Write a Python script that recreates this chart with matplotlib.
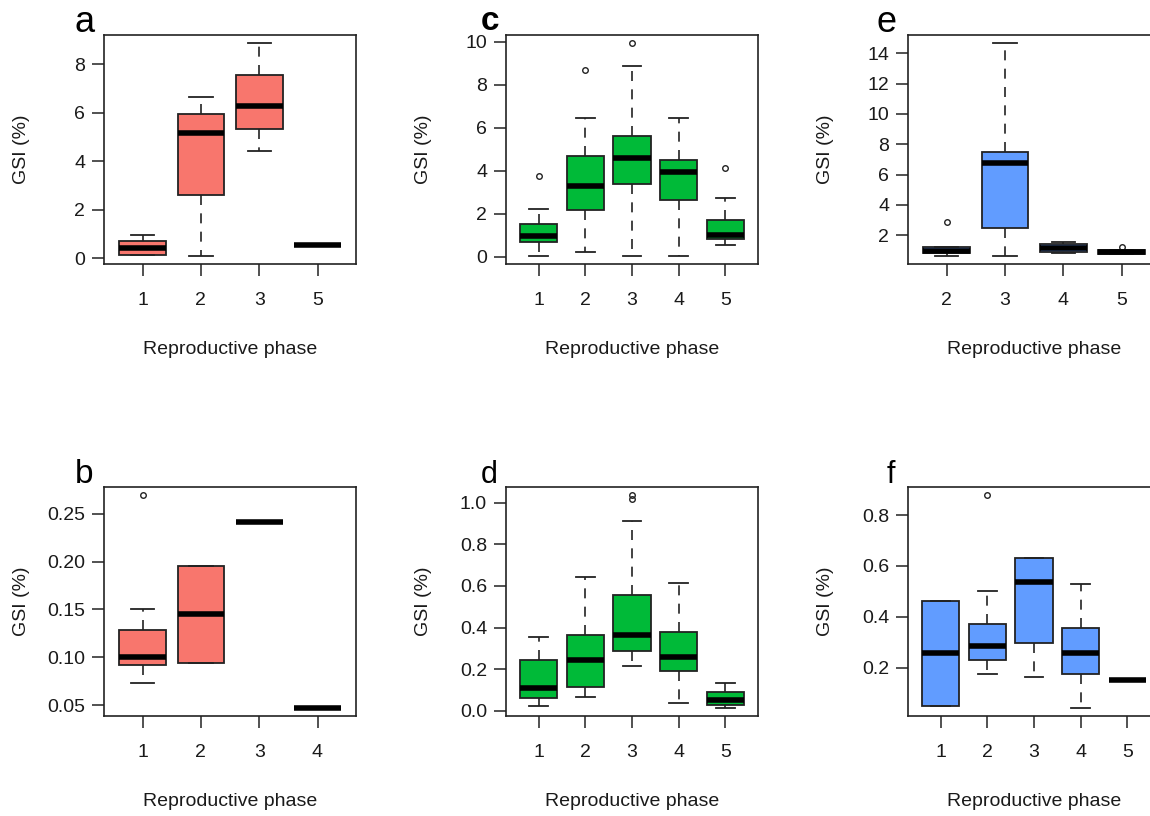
import numpy as np
import matplotlib
matplotlib.use('Agg')
import matplotlib.pyplot as plt
from matplotlib.ticker import MultipleLocator, FormatStrFormatter

plt.rcParams['font.family'] = ['Liberation Sans', 'DejaVu Sans']

# panel a (red)
labels_a = ['1', '2', '3', '5']
whislo_a = [0.15, 0.11, 4.43, 0.55]
q1_a = [0.15, 2.60, 5.33, 0.55]
med_a = [0.44, 5.16, 6.29, 0.55]
q3_a = [0.70, 5.96, 7.55, 0.55]
whishi_a = [0.94, 6.66, 8.85, 0.55]
fliers_a = [[], [], [], []]

# panel b (red)
labels_b = ['1', '2', '3', '4']
whislo_b = [0.073, 0.094, 0.241, 0.0475]
q1_b = [0.092, 0.094, 0.241, 0.0475]
med_b = [0.100, 0.1456, 0.241, 0.0475]
q3_b = [0.129, 0.195, 0.241, 0.0475]
whishi_b = [0.150, 0.195, 0.241, 0.0475]
fliers_b = [[0.269], [], [], []]

# panel c (green)
labels_c = ['1', '2', '3', '4', '5']
whislo_c = [0.05, 0.22, 0.05, 0.05, 0.56]
q1_c = [0.70, 2.15, 3.39, 2.65, 0.84]
med_c = [0.97, 3.30, 4.57, 3.94, 1.00]
q3_c = [1.51, 4.67, 5.60, 4.51, 1.71]
whishi_c = [2.21, 6.46, 8.88, 6.46, 2.72]
fliers_c = [[3.77], [8.70], [9.91], [], [4.11]]

# panel d (green)
labels_d = ['1', '2', '3', '4', '5']
whislo_d = [0.023, 0.066, 0.214, 0.037, 0.016]
q1_d = [0.064, 0.116, 0.289, 0.192, 0.028]
med_d = [0.111, 0.243, 0.366, 0.261, 0.052]
q3_d = [0.245, 0.363, 0.556, 0.377, 0.089]
whishi_d = [0.355, 0.643, 0.913, 0.616, 0.134]
fliers_d = [[], [], [1.02, 1.035], [], []]

# panel e (blue)
labels_e = ['2', '3', '4', '5']
whislo_e = [0.66, 0.66, 0.83, 0.79]
q1_e = [0.81, 2.49, 0.90, 0.79]
med_e = [0.95, 6.78, 1.15, 0.88]
q3_e = [1.23, 7.49, 1.43, 1.00]
whishi_e = [1.23, 14.65, 1.52, 1.00]
fliers_e = [[2.86], [], [], [1.23]]

# panel f (blue)
labels_f = ['1', '2', '3', '4', '5']
whislo_f = [0.048, 0.176, 0.165, 0.043, 0.151]
q1_f = [0.048, 0.230, 0.297, 0.176, 0.151]
med_f = [0.256, 0.286, 0.535, 0.256, 0.151]
q3_f = [0.461, 0.370, 0.630, 0.357, 0.151]
whishi_f = [0.461, 0.503, 0.630, 0.528, 0.151]
fliers_f = [[], [0.877], [], [], []]

RED = '#F8766D'
GREEN = '#00BA38'
BLUE = '#619CFF'

W, H = 1150, 816
fig = plt.figure(figsize=(W / 100, H / 100), dpi=100)


def make_stats(labels, lo, q1, med, q3, hi, fl):
    return [dict(label=l, whislo=a, q1=b, med=c, q3=d, whishi=e, fliers=f)
            for l, a, b, c, d, e, f in zip(labels, lo, q1, med, q3, hi, fl)]


def panel(left, top, letter, lpos, lsize, lweight, color, stats, step, fmt):
    ax = fig.add_axes([left / W, 1 - (top + 229) / H, 252 / W, 229 / H])
    n = len(stats)
    ax.bxp(stats, positions=np.arange(1, n + 1), widths=0.8, capwidths=0.4,
           patch_artist=True,
           boxprops=dict(facecolor=color, edgecolor='#222222', linewidth=1.3),
           medianprops=dict(color='black', linewidth=4.0, solid_capstyle='butt'),
           whiskerprops=dict(color='#222222', linewidth=1.2, linestyle=(0, (6, 5))),
           capprops=dict(color='#222222', linewidth=1.3),
           flierprops=dict(marker='o', markersize=4, markerfacecolor='none',
                           markeredgecolor='#222222', markeredgewidth=1.0))
    vals = []
    for s in stats:
        vals += [s['whislo'], s['whishi']] + list(s['fliers'])
    lo, hi = min(vals), max(vals)
    pad = 0.04 * (hi - lo)
    ax.set_ylim(lo - pad, hi + pad)
    ax.set_xlim(0.5 - 0.04 * n, n + 0.5 + 0.04 * n)
    ax.yaxis.set_major_locator(MultipleLocator(step))
    ax.yaxis.set_major_formatter(FormatStrFormatter(fmt))
    ax.tick_params(axis='both', direction='out', length=8.6, width=1.1,
                   color='#222222', labelsize=14, labelcolor='#1a1a1a')
    ax.tick_params(axis='x', pad=11.5)
    ax.tick_params(axis='y', pad=5)
    for sp in ax.spines.values():
        sp.set_linewidth(1.2)
        sp.set_color('#222222')
    ax.set_ylabel('GSI (%)', fontsize=14, color='#1a1a1a')
    ax.yaxis.set_label_coords(-82 / 252, 0.5)
    ax.yaxis.label.set_va('center')
    ax.set_xlabel('Reproductive phase', fontsize=14, color='#1a1a1a')
    ax.xaxis.set_label_coords(0.5, -86 / 229)
    ax.xaxis.label.set_va('center')
    fig.text(lpos[0] / W, 1 - lpos[1] / H, letter, fontsize=lsize,
             fontweight=lweight, ha='left', va='baseline')
    return ax


panel(104, 35, 'a', (74, 32), 26, 'normal', RED,
      make_stats(labels_a, whislo_a, q1_a, med_a, q3_a, whishi_a, fliers_a), 2, '%d')
panel(104, 487, 'b', (75, 483), 24, 'normal', RED,
      make_stats(labels_b, whislo_b, q1_b, med_b, q3_b, whishi_b, fliers_b), 0.05, '%.2f')
panel(506, 35, 'c', (481, 30), 24, 'bold', GREEN,
      make_stats(labels_c, whislo_c, q1_c, med_c, q3_c, whishi_c, fliers_c), 2, '%d')
panel(506, 487, 'd', (481, 483), 22, 'normal', GREEN,
      make_stats(labels_d, whislo_d, q1_d, med_d, q3_d, whishi_d, fliers_d), 0.2, '%.1f')
panel(908, 35, 'e', (877, 32), 26, 'normal', BLUE,
      make_stats(labels_e, whislo_e, q1_e, med_e, q3_e, whishi_e, fliers_e), 2, '%d')
panel(908, 487, 'f', (887, 483), 22, 'normal', BLUE,
      make_stats(labels_f, whislo_f, q1_f, med_f, q3_f, whishi_f, fliers_f), 0.2, '%.1f')

fig.savefig('out.png', dpi=100)
